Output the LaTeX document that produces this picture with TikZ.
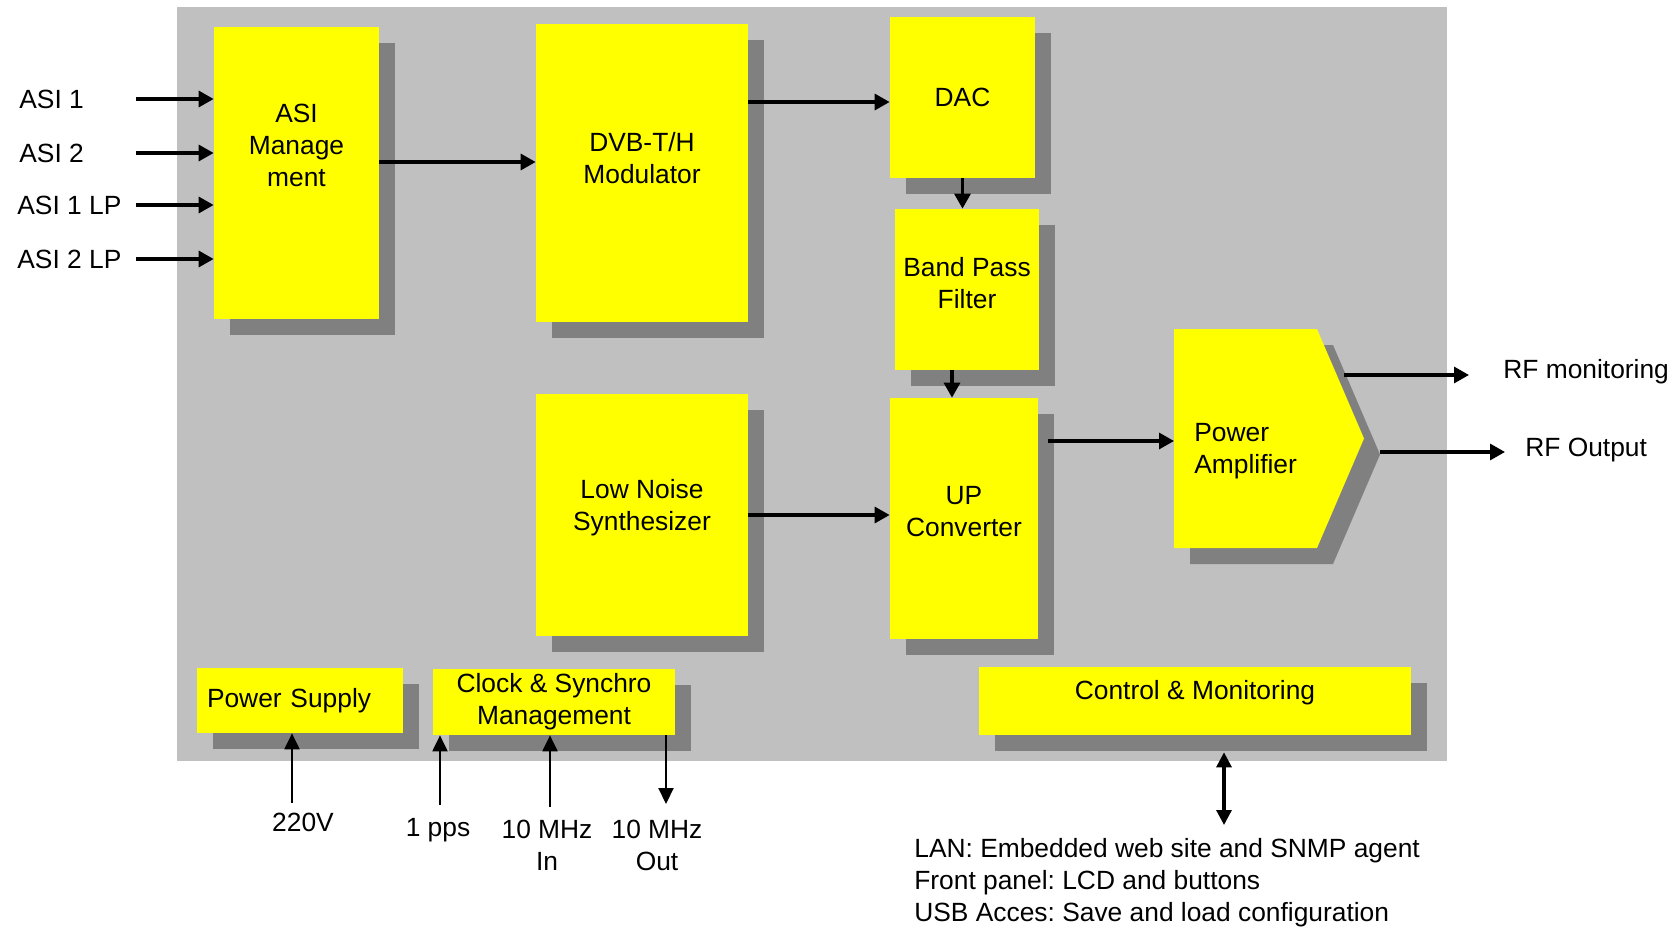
\documentclass[tikz,border=0pt]{standalone}
\usepackage{fontspec}
\setmainfont{Liberation Sans}
\usetikzlibrary{positioning,calc,arrows.meta,shadows}
\definecolor{BoxYellow}{RGB}{255,255,0}
\definecolor{PanelGrey}{RGB}{192,192,192}
\definecolor{ShadeGrey}{RGB}{128,128,128}
\frenchspacing

\begin{document}
\begin{tikzpicture}[x=1cm,y=-1cm,font=\fontsize{15pt}{18.2pt}\selectfont,
  blk/.style={fill=BoxYellow,inner sep=0pt,align=center,drop shadow={opacity=1,fill=ShadeGrey,shadow xshift=0.32cm,shadow yshift=-0.32cm}},
  arr/.style={line width=1.8pt,-{Triangle[length=0.3cm,width=0.32cm]}},
  thinarr/.style={line width=1.2pt,-{Triangle[length=0.32cm,width=0.3cm]}},
  biarr/.style={line width=1.8pt,{Triangle[length=0.3cm,width=0.3cm]}-{Triangle[length=0.3cm,width=0.3cm]}},
  lbl/.style={inner sep=0pt,align=center}]
\useasboundingbox (0,0) rectangle (33.54,18.56);
\fill[PanelGrey] (3.54,0.14) rectangle (28.94,15.22);

% main chain
\node[blk,minimum width=3.30cm,minimum height=5.84cm,text depth=1.1cm] (asi) at (5.93,3.46) {ASI\\Manage\\ment};
\node[blk,minimum width=4.24cm,minimum height=5.96cm,text depth=0.62cm] (dvb) at (12.84,3.46) {DVB-T/H\\Modulator};
\node[blk,minimum width=2.90cm,minimum height=3.22cm] (dac) at (19.25,1.95) {DAC};
\node[blk,minimum width=2.88cm,minimum height=3.22cm,text depth=0.26cm] (bpf) at (19.34,5.79) {Band Pass\\Filter};
\node[blk,minimum width=4.24cm,minimum height=4.84cm,text depth=0.4cm] (lns) at (12.84,10.30) {Low Noise\\Synthesizer};
\node[blk,minimum width=2.96cm,minimum height=4.82cm,text depth=0.3cm] (up) at (19.28,10.37) {UP\\Converter};

% power amplifier
\fill[BoxYellow,drop shadow={opacity=1,fill=ShadeGrey,shadow xshift=0.32cm,shadow yshift=-0.32cm}] (23.48,6.58) -- (26.34,6.58) -- (27.28,8.77) -- (26.34,10.96) -- (23.48,10.96) -- cycle;
\node[lbl,align=left,anchor=west] (pa) at (23.88,9.03) {Power\\Amplifier};
\coordinate (pain) at (23.48,8.82);
\coordinate (pamon) at (26.88,7.50);
\coordinate (paout) at (27.60,9.04);

% bottom row
\node[blk,minimum width=4.12cm,minimum height=1.30cm,inner xsep=0.2cm,text width=3.72cm,align=left] (ps) at (6.00,14.01) {Power Supply};
\node[blk,minimum width=4.84cm,minimum height=1.32cm] (clk) at (11.08,14.04) {Clock \& Synchro\\Management};
\node[blk,minimum width=8.64cm,minimum height=1.36cm,text depth=0.45cm] (ctl) at (23.90,14.02) {Control \& Monitoring};

% inputs / outputs
\node[lbl,anchor=west] (asi1) at (0.38,1.98) {ASI 1};
\node[lbl,anchor=west] (asi2) at (0.38,3.06) {ASI 2};
\node[lbl,anchor=west] (asi1lp) at (0.34,4.10) {ASI 1 LP};
\node[lbl,anchor=west] (asi2lp) at (0.34,5.18) {ASI 2 LP};
\coordinate (insrc) at (2.72,0);
\node[lbl,anchor=west] (rfmon) at (30.06,7.44) {RF monitoring};
\node[lbl,anchor=west] (rfout) at (30.50,9.00) {RF Output};
\node[lbl] (v220) at (6.06,16.44) {220V};
\node[lbl] (pps) at (8.76,16.60) {1 pps};
\node[lbl] (mhzin) at (10.94,16.90) {10 MHz\\In};
\node[lbl] (mhzout) at (13.14,16.90) {10 MHz\\Out};
\node[lbl,align=left,anchor=west] (lan) at (18.28,17.66) {LAN: Embedded web site and SNMP agent\\Front panel: LCD and buttons\\USB Acces: Save and load configuration};
\coordinate (c220) at (5.84,16.06);
\coordinate (cpps) at (8.80,16.10);
\coordinate (cin) at (11.00,16.14);
\coordinate (cout) at (13.32,16.08);
\coordinate (clan) at (24.48,16.50);

% connectors
\foreach \src in {asi1,asi2,asi1lp,asi2lp}
  \draw[arr] (\src -| insrc) -- (\src -| asi.west);
\draw[arr] ([yshift=0.22cm]asi.east) -- ([yshift=0.22cm]asi.east -| dvb.west);
\draw[arr] ([yshift=-0.09cm]dvb.east |- dac.west) -- ([yshift=-0.09cm]dac.west);
\draw[arr] (dac.south) -- (dac.south |- bpf.north);
\draw[arr] ([xshift=-0.3cm]bpf.south) -- ([xshift=-0.3cm]bpf.south |- up.north);
\draw[arr] (lns.east) -- (lns.east -| up.west);
\draw[arr] ([xshift=0.2cm]up.east |- pain) -- (pain);
\draw[arr,shorten >=0.68cm] (pamon) -- (pamon -| rfmon.west);
\draw[arr,shorten >=0.40cm] (paout) -- (paout -| rfout.west);
\draw[thinarr] (c220) -- (c220 |- ps.south);
\draw[thinarr] (cpps) -- (cpps |- clk.south);
\draw[thinarr] (cin) -- (cin |- clk.south);
\draw[thinarr] (cout |- clk.south) -- (cout);
\draw[biarr] ([yshift=-0.34cm]clan |- ctl.south) -- (clan);
\end{tikzpicture}
\end{document}
